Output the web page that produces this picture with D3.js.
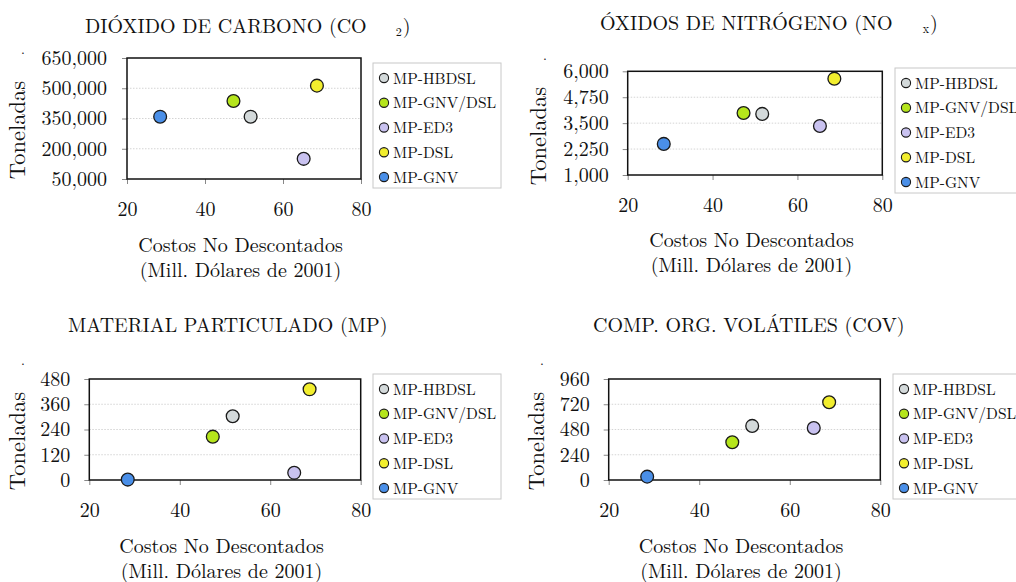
<!DOCTYPE html>
<html><head><meta charset="utf-8">
<script src="https://cdn.jsdelivr.net/npm/d3@7"></script>
<style>
html,body{margin:0;padding:0;background:#fff;}
</style></head>
<body><svg id="c" width="1016" height="582" font-family="Latin Modern Roman"></svg>
<script>
// ---- data ----
const categories = ["MP-HBDSL","MP-GNV/DSL","MP-ED3","MP-DSL","MP-GNV"];
const colors = ["#d3d9da","#b5e51c","#c9c2f0","#f2ee2e","#4a8fe8"];
const costs = [51.7, 47.3, 65.3, 68.7, 28.5];
const co2 = [359000, 437000, 150000, 513000, 359000];
const nox = [3945, 3990, 3365, 5645, 2500];
const pm  = [303, 206, 34, 431, 2];
const cov = [514, 359, 494, 739, 32];
const xTicks = [20, 40, 60, 80];
const co2Ticks = [50000, 200000, 350000, 500000, 650000];
const noxTicks = [1000, 2250, 3500, 4750, 6000];
const pmTicks = [0, 120, 240, 360, 480];
const covTicks = [0, 240, 480, 720, 960];

const FONT = "Latin Modern Roman";
const panels = [
  {title:"DIÓXIDO DE CARBONO (CO", sub:"2", values:co2, ticks:co2Ticks, ypad:15,
   box:[127,58,361,179], titleX:85, titleY:33, subDx:29, legend:[373,63,501,188], yl:[25,130], xl:[240.5,252], dot:[23,51]},
  {title:"ÓXIDOS DE NITRÓGENO (NO", sub:"x", values:nox, ticks:noxTicks, ypad:14,
   box:[627.7,71.3,882.3,175], titleX:600, titleY:30, subDx:30, legend:[895,68,1020,193], yl:[546,136], xl:[751.5,247], dot:[545,57]},
  {title:"MATERIAL PARTICULADO (MP)", sub:null, values:pm, ticks:pmTicks, ypad:14,
   box:[89.3,379,360.7,480], titleX:68, titleY:332, legend:[373,374,501,499], yl:[25,441], xl:[221.5,553], dot:[23,362]},
  {title:"COMP. ORG. VOLÁTILES (COV)", sub:null, values:cov, ticks:covTicks, ypad:14,
   box:[608.7,379,880.3,480], titleX:593, titleY:332, legend:[893,374,1020,499], yl:[544,441], xl:[741,553], dot:[542,362]}
];

const svg = d3.select("#c");
const fmt = d3.format(",");

panels.forEach(p => {
  const [x0,y0,x1,y1] = p.box;
  const g = svg.append("g");
  const x = d3.scaleLinear().domain([20,80]).range([x0,x1]);
  const y = d3.scaleLinear().domain([p.ticks[0], p.ticks[p.ticks.length-1]]).range([y1,y0]);

  // grid
  g.selectAll("line.grid").data(p.ticks.slice(1,-1)).enter().append("line")
    .attr("x1",x0).attr("x2",x1).attr("y1",d=>y(d)).attr("y2",d=>y(d))
    .attr("stroke","#d4d4d4").attr("stroke-width",1).attr("stroke-dasharray","1.5,1.5");

  // axes
  const ya = g.append("g").attr("transform",`translate(${x0},0)`)
    .call(d3.axisLeft(y).tickValues(p.ticks).tickFormat(fmt).tickSize(5).tickPadding(p.ypad));
  const xa = g.append("g").attr("transform",`translate(0,${y1})`)
    .call(d3.axisBottom(x).tickValues(xTicks).tickSize(5).tickPadding(18));
  [ya,xa].forEach(a=>{
    a.attr("font-family",FONT).attr("font-size",20);
    a.select(".domain").remove();
    a.selectAll(".tick line").attr("stroke","#888");
    a.selectAll("text").attr("fill","#111");
  });

  // box
  g.append("rect").attr("x",x0).attr("y",y0).attr("width",x1-x0).attr("height",y1-y0)
    .attr("fill","none").attr("stroke","#111").attr("stroke-width",1.5);

  // points
  g.selectAll("circle.pt").data(categories).enter().append("circle")
    .attr("cx",(d,i)=>x(costs[i])).attr("cy",(d,i)=>y(p.values[i])).attr("r",6.4)
    .attr("fill",(d,i)=>colors[i]).attr("stroke","#1a1a1a").attr("stroke-width",1.3);

  // title
  const t = g.append("text").attr("x",p.titleX).attr("y",p.titleY).attr("font-size",20).attr("fill","#111").text(p.title);
  if (p.sub) {
    t.append("tspan").attr("dx",p.subDx).attr("dy",3).attr("font-size",12).text(p.sub);
    t.append("tspan").attr("dx",1).attr("dy",-3).attr("font-size",20).text(")");
  }

  // y label
  g.append("text").attr("transform",`translate(${p.yl[0]},${p.yl[1]}) rotate(-90)`)
    .attr("text-anchor","middle").attr("font-size",22.5).attr("fill","#111").text("Toneladas");
  g.append("text").attr("x",p.dot[0]).attr("y",p.dot[1]+3).attr("text-anchor","middle").attr("font-size",14).attr("fill","#111").text(".");

  // x label
  g.append("text").attr("x",p.xl[0]).attr("y",p.xl[1]).attr("text-anchor","middle").attr("font-size",20).attr("fill","#111").text("Costos No Descontados");
  g.append("text").attr("x",p.xl[0]).attr("y",p.xl[1]+25).attr("text-anchor","middle").attr("font-size",20).attr("fill","#111").text("(Mill. Dólares de 2001)");

  // legend
  const [lx0,ly0,lx1,ly1] = p.legend;
  g.append("rect").attr("x",lx0).attr("y",ly0).attr("width",lx1-lx0).attr("height",ly1-ly0)
    .attr("fill","#fff").attr("stroke","#c8c8c8").attr("stroke-width",1);
  const step = (ly1-ly0)/5.05;
  const li = g.selectAll("g.li").data(categories).enter().append("g")
    .attr("transform",(d,i)=>`translate(${lx0+11},${ly0+15+i*step})`);
  li.append("circle").attr("r",4.6).attr("fill",(d,i)=>colors[i]).attr("stroke","#1a1a1a").attr("stroke-width",1.1);
  li.append("text").attr("x",9).attr("y",5.5).attr("font-size",15.5).attr("fill","#111").text(d=>d);
});
</script></body></html>
